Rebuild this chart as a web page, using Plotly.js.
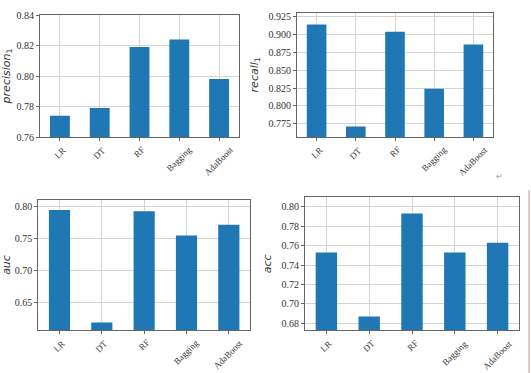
<!DOCTYPE html>
<html>
<head>
<meta charset="utf-8">
<script src="https://cdn.plot.ly/plotly-3.0.1.min.js"></script>
<style>html,body{margin:0;padding:0;background:#fff;}#chart{width:531px;height:373px;}</style>
</head>
<body>
<div id="chart"></div>
<script>
const models = ["LR", "DT", "RF", "Bagging", "AdaBoost"];
const precision1 = [0.774, 0.779, 0.819, 0.824, 0.798];
const recall1 = [0.914, 0.771, 0.904, 0.824, 0.886];
const auc = [0.795, 0.619, 0.793, 0.755, 0.772];
const acc = [0.753, 0.687, 0.793, 0.753, 0.763];

const W = 531, H = 373;
const barColor = "#1f77b4";
const panels = [
  {vals: precision1, title: "<i>precision</i><sub>1</sub>", range: [0.76, 0.84], dtick: 0.02, fmt: ".2f", px: [40, 239], py: [15, 137]},
  {vals: recall1, title: "<i>recall</i><sub>1</sub>", range: [0.7563, 0.9306], dtick: 0.025, fmt: ".3f", px: [297, 493], py: [12.7, 137]},
  {vals: auc, title: "<i>auc</i>", range: [0.6073, 0.8105], dtick: 0.05, fmt: ".2f", px: [38.3, 250], py: [200, 330]},
  {vals: acc, title: "<i>acc</i>", range: [0.6728, 0.8097], dtick: 0.02, fmt: ".2f", px: [305, 519], py: [197.3, 330.3]}
];

const data = [];
const layout = {
  width: W, height: H,
  margin: {l: 0, r: 0, t: 0, b: 0},
  paper_bgcolor: "#fff", plot_bgcolor: "#fff",
  showlegend: false,
  font: {family: "Liberation Serif, serif", size: 10, color: "#333"},
  shapes: [{type: "line", xref: "paper", yref: "paper", x0: 529/W, x1: 529/W, y0: 1 - 190/H, y1: 0, line: {color: "#d98b8b", width: 1}}],
  annotations: [{text: "↵", xref: "paper", yref: "paper", x: 505/W, y: 1 - 176/H, showarrow: false, font: {size: 8, color: "#999"}}]
};

panels.forEach((p, i) => {
  const n = i === 0 ? "" : String(i + 1);
  data.push({
    type: "bar", x: models, y: p.vals, width: 0.5,
    marker: {color: barColor},
    xaxis: "x" + n, yaxis: "y" + n,
    hoverinfo: "x+y"
  });
  const yBottom = 1 - p.py[1] / H;
  layout["xaxis" + n] = {
    domain: [p.px[0] / W, p.px[1] / W],
    anchor: "y" + n,
    range: [-0.5, 4.5],
    showticklabels: false,
    showgrid: true, gridcolor: "#d4d4d4", gridwidth: 1,
    showline: true, mirror: true, linecolor: "#666", linewidth: 1,
    ticks: "outside", ticklen: 3, tickcolor: "#666",
    fixedrange: true
  };
  layout["yaxis" + n] = {
    domain: [yBottom, 1 - p.py[0] / H],
    anchor: "x" + n,
    range: p.range,
    dtick: p.dtick, tick0: 0, tickformat: p.fmt,
    showgrid: true, gridcolor: "#d4d4d4", gridwidth: 1,
    zeroline: false,
    showline: true, mirror: true, linecolor: "#666", linewidth: 1,
    ticks: "outside", ticklen: 3, tickcolor: "#666",
    tickfont: {family: "Liberation Serif, serif", size: 10, color: "#333"},
    title: {text: p.title, font: {family: "DejaVu Sans, sans-serif", size: 11, color: "#333"}, standoff: 7},
    fixedrange: true
  };
  models.forEach(m => {
    layout.annotations.push({
      text: m, xref: "x" + n, yref: "paper", x: m, y: yBottom,
      xanchor: "center", yanchor: "top", yshift: -5,
      textangle: -45, showarrow: false,
      font: {family: "Liberation Serif, serif", size: 9, color: "#333"}
    });
  });
});

Plotly.newPlot("chart", data, layout, {displayModeBar: false, staticPlot: true});
</script>
</body>
</html>
